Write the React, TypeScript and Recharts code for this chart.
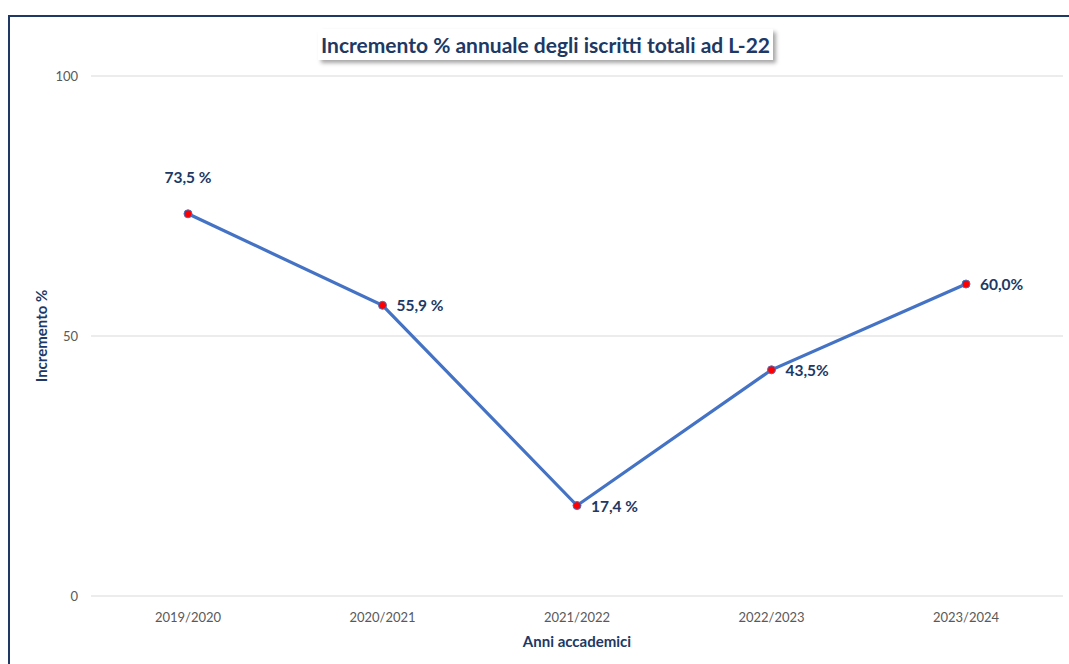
import { LineChart, Line, XAxis, YAxis, CartesianGrid, LabelList, Label } from "recharts";

const years = ["2019/2020", "2020/2021", "2021/2022", "2022/2023", "2023/2024"];
const increments = [73.5, 55.9, 17.4, 43.5, 60.0];
const valueLabels = ["73,5 %", "55,9 %", "17,4 %", "43,5%", "60,0%"];
const yTicks = [0, 50, 100];

const data = years.map((year, i) => ({ year, value: increments[i], label: valueLabels[i] }));

const NAVY = "#203864";
const FONT = "Lato, 'Open Sans', sans-serif";

function ValueLabel(props: any) {
  const { x, y, index } = props;
  const text = valueLabels[index];
  if (index === 0) {
    return (
      <text x={x} y={y - 37} textAnchor="middle" dominantBaseline="central"
        fill={NAVY} fontSize={15.5} fontWeight={700} fontFamily={FONT}>
        {text}
      </text>
    );
  }
  return (
    <text x={x + 14} y={y} textAnchor="start" dominantBaseline="central"
      fill={NAVY} fontSize={15.5} fontWeight={700} fontFamily={FONT}>
      {text}
    </text>
  );
}

export default function App() {
  return (
    <div style={{ position: "absolute", left: 0, top: 0, width: 1069, height: 664, background: "#fff", overflow: "hidden" }}>
      <div style={{
        position: "absolute", left: 8, top: 15, width: 1100, height: 700,
        borderLeft: `2px solid ${NAVY}`, borderTop: `2px solid ${NAVY}`,
        boxSizing: "border-box",
      }} />
      <div style={{
        position: "absolute", left: 318, top: 29, width: 455, height: 31,
        background: "#fff", boxShadow: "3px 3px 4px rgba(0,0,0,0.35)",
        display: "flex", alignItems: "center", justifyContent: "center",
        fontFamily: FONT, fontWeight: 700, fontSize: 21, color: NAVY, zIndex: 2,
      }}>
        Incremento % annuale degli iscritti totali ad L-22
      </div>
      <div style={{ position: "absolute", left: 0, top: 0 }}>
        <LineChart width={1069} height={664} data={data}
          margin={{ top: 76, right: 6, bottom: 0, left: 31 }}>
          <CartesianGrid vertical={false} stroke="#d9d9d9" strokeWidth={1} />
          <XAxis dataKey="year" axisLine={false} tickLine={false} tickSize={0} tickMargin={17}
            padding={{ left: 97, right: 97 }}
            tick={{ fill: "#595959", fontSize: 13, fontFamily: FONT }} height={68}>
            <Label value="Anni accademici" position="insideBottom" offset={17}
              fill={NAVY} fontSize={15} fontWeight={700} fontFamily={FONT} />
          </XAxis>
          <YAxis domain={[0, 100]} ticks={yTicks} axisLine={false} tickLine={false} tickSize={0} tickMargin={13}
            width={60} tick={{ fill: "#595959", fontSize: 13, fontFamily: FONT }}>
            <Label value="Incremento %" angle={-90} position="insideLeft" offset={11}
              style={{ textAnchor: "middle" }}
              fill={NAVY} fontSize={15} fontWeight={700} fontFamily={FONT} />
          </YAxis>
          <Line type="linear" dataKey="value" stroke="#4472C4" strokeWidth={3.2}
            dot={{ r: 4, fill: "#ff0000", stroke: "#4472C4", strokeWidth: 1 }}
            isAnimationActive={false}>
            <LabelList dataKey="value" content={ValueLabel} />
          </Line>
        </LineChart>
      </div>
    </div>
  );
}
